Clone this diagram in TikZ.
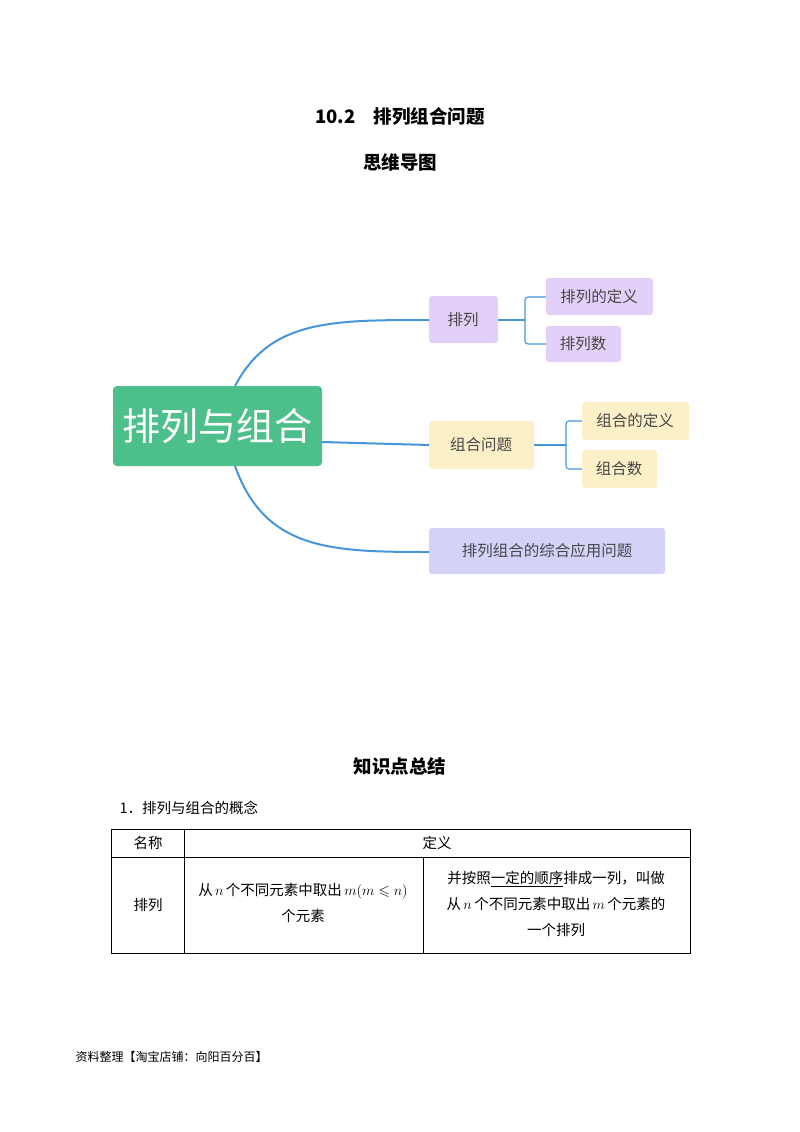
\documentclass[tikz,border=0pt]{standalone}
\usepackage{amssymb}
\usepackage{fontspec}
\setmainfont{Noto Sans CJK SC}
\usetikzlibrary{positioning}
\begin{document}
\begin{tikzpicture}[x=1pt,y=-1pt,
  box/.style={rounded corners=3pt, draw=none, inner sep=0pt, font=\fontsize{15.5}{17}\selectfont\color{black!72}},
  link/.style={draw={rgb,255:red,70;green,150;blue,220}, line width=2pt},
  blink/.style={draw={rgb,255:red,70;green,150;blue,220}, line width=1.1pt},
  cell/.style={font=\fontsize{14.5}{26}\selectfont, align=center}]
\useasboundingbox (0,0) rectangle (800,1132);
\fill[white] (0,0) rectangle (800,1132);
\node[font=\bfseries\fontsize{18.5}{20}\selectfont] (t1) at (400,117) {10.2\quad 排列组合问题};
\node[font=\bfseries\fontsize{18.5}{20}\selectfont] (t2) at (400,162) {思维导图};
% nodes
\fill[rounded corners=4pt, fill={rgb,255:red,77;green,191;blue,138}] (113,386) rectangle (322,466);
\node[text=white,font=\fontsize{38}{40}\selectfont] (c) at (217,426) {排列与组合};
\coordinate (ctop) at (235,386); \coordinate (cbot) at (235,466); \coordinate (cr) at (322,442);
\fill[rounded corners=3pt, fill={rgb,255:red,227;green,208;blue,248}] (429,296) rectangle (498,343);
\node[box] (a) at (463,320) {排列};
\fill[rounded corners=3pt, fill={rgb,255:red,227;green,208;blue,248}] (546,278) rectangle (653,315);
\node[box] (a1) at (599,297) {排列的定义};
\fill[rounded corners=3pt, fill={rgb,255:red,227;green,208;blue,248}] (546,326) rectangle (621,362);
\node[box] (a2) at (583,344) {排列数};
\fill[rounded corners=3pt, fill={rgb,255:red,251;green,240;blue,200}] (429,421) rectangle (534,469);
\node[box] (b) at (481,445) {组合问题};
\fill[rounded corners=3pt, fill={rgb,255:red,251;green,240;blue,200}] (582,402) rectangle (689,440);
\node[box] (b1) at (635,421) {组合的定义};
\fill[rounded corners=3pt, fill={rgb,255:red,251;green,240;blue,200}] (582,450) rectangle (657,488);
\node[box] (b2) at (619,469) {组合数};
\fill[rounded corners=3pt, fill={rgb,255:red,213;green,210;blue,250}] (429,528) rectangle (665,574);
\node[box] (d) at (547,551) {排列组合的综合应用问题};
\coordinate (al) at (429,320); \coordinate (ar) at (498,320);
\coordinate (bl) at (429,445); \coordinate (br) at (534,445);
\coordinate (dl) at (429,552);
\coordinate (a1l) at (546,297); \coordinate (a2l) at (546,344);
\coordinate (b1l) at (582,421); \coordinate (b2l) at (582,469);
% links
\draw[link] (ctop) .. controls (270,320) and (330,320) .. (al);
\draw[link] (cr) -- (bl);
\draw[link] (cbot) .. controls (265,550) and (330,552) .. (dl);
\draw[blink] (ar) -- (525,320);
\draw[blink,rounded corners=3pt] (a1l) -- (525,297) -- (525,344) -- (a2l);
\draw[blink] (br) -- (566,445);
\draw[blink,rounded corners=3pt] (b1l) -- (566,421) -- (566,469) -- (b2l);
% summary
\node[font=\bfseries\fontsize{18.5}{20}\selectfont] (t3) at (400,766) {知识点总结};
\node[anchor=west,font=\fontsize{14.5}{16}\selectfont] (h1) at (116,808) {1．排列与组合的概念};
\draw[line width=0.8pt] (111,829) rectangle (690,953);
\draw[line width=0.7pt] (111,857) -- (690,857) (184,829) -- (184,953) (423,857) -- (423,953);
\node[cell] (n1) at (148,843) {名称};
\node[cell] (n2) at (437,843) {定义};
\node[cell] (n3) at (148,905) {排列};
\node[cell] (n4) at (303,903) {从$\,n\,$个不同元素中取出$\,m(m\leqslant n)$\\个元素};
\node[cell] (n5) at (556,904) {并按照\underline{一定的顺序}排成一列，叫做\\从$\,n\,$个不同元素中取出$\,m\,$个元素的\\一个排列};
\node[anchor=west,font=\fontsize{12}{14}\selectfont] (f) at (72,1057) {资料整理【淘宝店铺：向阳百分百】};
\end{tikzpicture}
\end{document}
